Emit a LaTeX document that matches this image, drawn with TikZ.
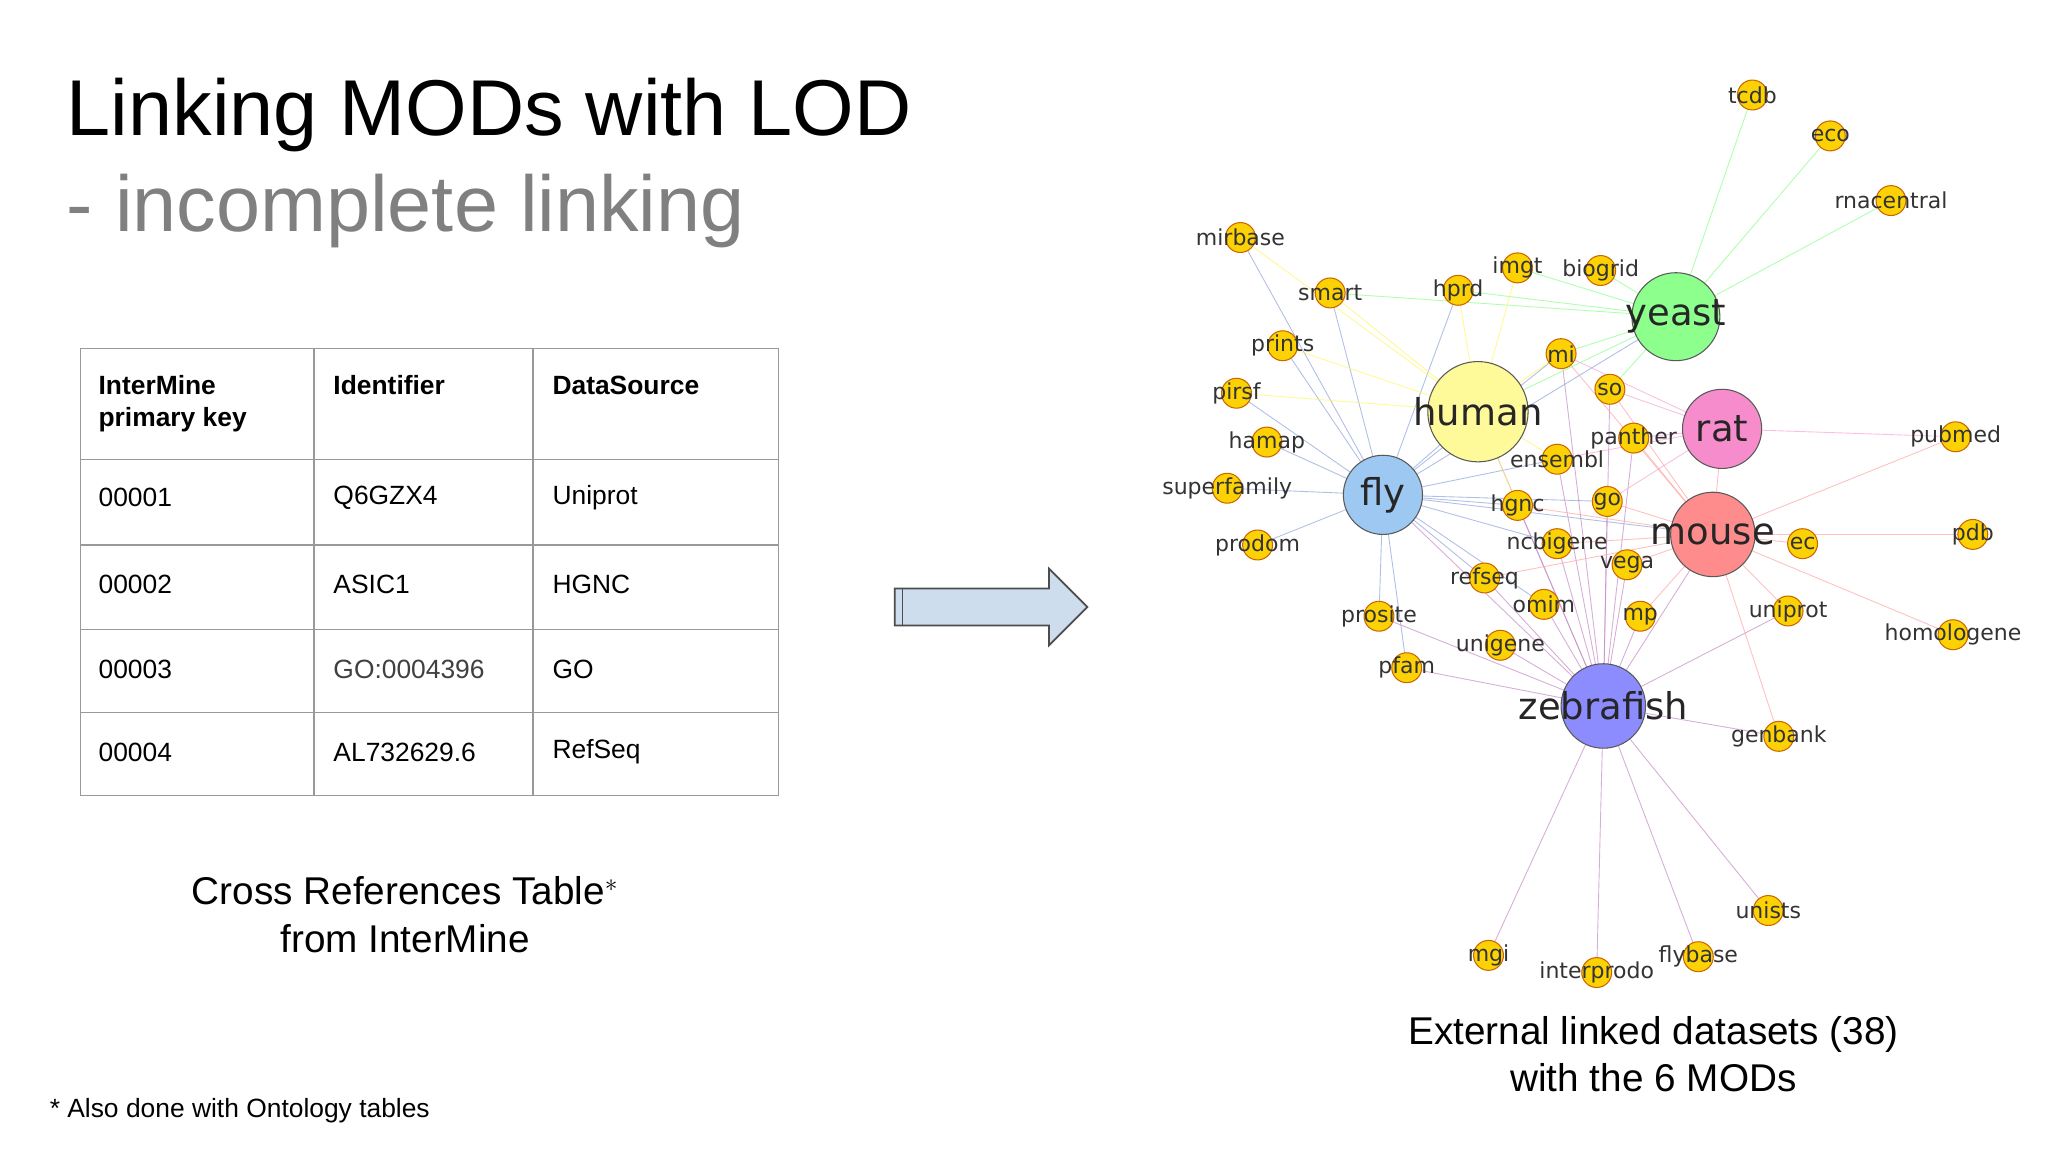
\documentclass[tikz,border=0pt]{standalone}
\usepackage{fontspec}
\setmainfont{Liberation Sans}
\newfontfamily\gfont{DejaVu Sans}
\definecolor{flyc}{HTML}{9CC8F2}
\definecolor{arrc}{HTML}{CDDDEE}
\begin{document}
\begin{tikzpicture}[x=0.75pt,y=-0.75pt,
  cell/.style={anchor=north west,font=\fontsize{15}{18}\selectfont,align=left},
  hd/.style={cell,font=\fontsize{15}{18}\selectfont\bfseries},
  sm/.style={circle,draw=orange!80!black,fill=yellow!70!orange,minimum size=17pt,inner sep=0pt,line width=0.6pt},
  big/.style={circle,draw=gray!70!black,minimum size=#1,inner sep=0pt,line width=0.6pt},
  sl/.style={font=\gfont\fontsize{12.5}{13}\selectfont,text=black!80},
  bl/.style={font=\gfont\fontsize{21}{22}\selectfont,text=black!85},
  ed/.style={line width=0.5pt,opacity=0.7}]
\useasboundingbox (0,0) rectangle (1552,873);
\fill[white] (0,0) rectangle (1552,873);
% title
\node[anchor=west,font=\fontsize{45}{50}\selectfont] (title) at (46,87) {Linking MODs with LOD};
\node[anchor=west,font=\fontsize{45}{50}\selectfont,text=gray] (sub) at (46,160) {- incomplete linking};
% table
\draw[gray!80,line width=0.8pt] (61,264) rectangle (590,603);
\foreach \y in {348,413,477,540} \draw[gray!80,line width=0.8pt] (61,\y) -- (590,\y);
\foreach \x in {238,404} \draw[gray!80,line width=0.8pt] (\x,264) -- (\x,603);
\node[hd] (h1) at (70,280) {InterMine\\primary key};
\node[hd] (h2) at (248,280) {Identifier};
\node[hd] (h3) at (414,280) {DataSource};
\foreach \r/\y/\a/\b/\c in {1/377/00001/Q6GZX4/Uniprot,2/443/00002/ASIC1/HGNC,4/570/00004/AL732629.6/RefSeq}{
  \node[cell,anchor=west] (a\r) at (70,\y) {\a};
  \node[cell,anchor=west] (b\r) at (248,\y) {\b};
  \node[cell,anchor=west] (c\r) at (414,\y) {\c};}
\node[cell,anchor=west] (a3) at (70,507) {00003};
\node[text=black!75,cell,anchor=west] (b3) at (248,507) {GO:0004396};
\node[cell,anchor=west] (c3) at (414,507) {GO};
\node[align=center,font=\fontsize{22}{27}\selectfont] (cap1) at (307,693) {Cross References Table$^{*}$\\from InterMine};
\node[anchor=west,font=\fontsize{15}{18}\selectfont] (foot) at (33,842) {* Also done with Ontology tables};
\node[align=center,font=\fontsize{22}{27}\selectfont] (cap2) at (1253,799) {External linked datasets (38)\\with the 6 MODs};
% arrow
\draw[fill=arrc,draw=black!70,line width=1pt] (678,446) -- (795,446) -- (795,431) -- (824,460) -- (795,489) -- (795,474) -- (678,474) -- cycle;
\draw[black!70,line width=1pt] (684,446) -- (684,474);
% graph coordinates
\foreach \n/\x/\y in {yeast/1270/240,human/1120/312,rat/1305/325,fly/1048/375,mouse/1298/405,zebrafish/1215/535,
 tcdb/1328/72,eco/1387/103,rnacentral/1433/152,mirbase/940/180,smart/1008/222,hprd/1105/220,imgt/1150/203,biogrid/1213/205,
 prints/972/262,mi/1183/268,pirsf/937/298,so/1220/295,hamap/960/335,panther/1238/332,ensembl/1180/348,superfamily/930/370,
 hgnc/1150/383,go/1218/380,prodom/953/413,ncbigene/1180/412,vega/1233/428,ec/1366/412,pubmed/1482/331,pdb/1495/405,
 refseq/1125/438,omim/1170/458,mp/1243/467,uniprot/1355/463,prosite/1045/467,unigene/1137/489,pfam/1066/506,
 homologene/1480/481,genbank/1348/558,unists/1340/690,mgi/1128/724,interpro/1210/737,flybase/1287/725}
 \coordinate (c-\n) at (\x,\y);
% edges
\foreach \t in {smart,prints,pirsf,hamap,superfamily,prodom,prosite,pfam,hprd,human,mi,ensembl,hgnc,go,ncbigene,refseq,omim,mouse,yeast,mirbase}
  \draw[ed,cyan!40!blue!45] (c-fly) -- (c-\t);
\foreach \t in {mgi,interpro,flybase,unists,genbank,uniprot,mp,vega,go,ncbigene,refseq,omim,unigene,pfam,prosite,ensembl,hgnc,fly,mouse,human,so,panther,mi}
  \draw[ed,violet!45] (c-zebrafish) -- (c-\t);
\foreach \t in {pubmed,pdb,ec,homologene,genbank,uniprot,mp,vega,go,ncbigene,panther,so,rat,mi,hgnc,refseq}
  \draw[ed,red!35] (c-mouse) -- (c-\t);
\foreach \t in {pubmed,so,panther,ensembl,mi,go}
  \draw[ed,magenta!35] (c-rat) -- (c-\t);
\foreach \t in {tcdb,eco,rnacentral,biogrid,imgt,hprd,mi,so,smart,human}
  \draw[ed,green!45] (c-yeast) -- (c-\t);
\foreach \t in {mirbase,smart,prints,pirsf,hprd,imgt,mi,ensembl,hgnc}
  \draw[ed,yellow!60] (c-human) -- (c-\t);
% small nodes
\foreach \n/\l in {tcdb/tcdb,eco/eco,rnacentral/rnacentral,mirbase/mirbase,smart/smart,hprd/hprd,imgt/imgt,biogrid/biogrid,
 prints/prints,mi/mi,pirsf/pirsf,so/so,hamap/hamap,panther/panther,ensembl/ensembl,superfamily/superfamily,hgnc/hgnc,go/go,
 prodom/prodom,ncbigene/ncbigene,vega/vega,ec/ec,pubmed/pubmed,pdb/pdb,refseq/refseq,omim/omim,mp/mp,uniprot/uniprot,
 prosite/prosite,unigene/unigene,pfam/pfam,homologene/homologene,genbank/genbank,unists/unists,mgi/mgi,interpro/interprodo,flybase/flybase}{
  \node[sm] (n-\n) at (c-\n) {};
  \node[sl] (l-\n) at (c-\n) {\l};}
% big nodes
\node[big=50pt,fill=green!45] (n-yeast) at (c-yeast) {};
\node[big=57pt,fill=yellow!40] (n-human) at (c-human) {};
\node[big=45pt,fill=magenta!45] (n-rat) at (c-rat) {};
\node[big=45pt,fill=flyc] (n-fly) at (c-fly) {};
\node[big=48pt,fill=red!45] (n-mouse) at (c-mouse) {};
\node[big=48pt,fill=blue!45] (n-zebrafish) at (c-zebrafish) {};
\foreach \n in {yeast,human,rat,fly,mouse,zebrafish} \node[bl] (t-\n) at (c-\n) {\n};
\end{tikzpicture}
\end{document}
